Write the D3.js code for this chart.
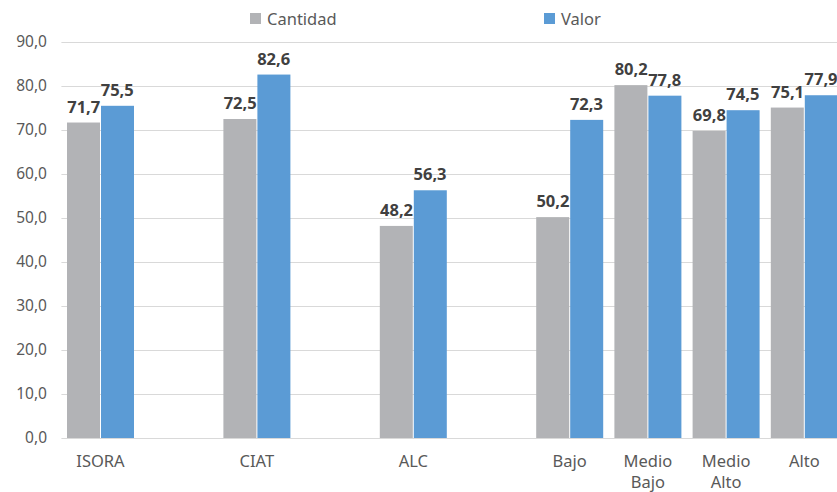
<!DOCTYPE html>
<html lang="es">
<head>
<meta charset="UTF-8" />
<title>Cantidad y Valor</title>
<script src="https://d3js.org/d3.v7.min.js"></script>
<style>
  body { margin: 0; background: #fff; }
  text { font-family: "Noto Sans", sans-serif; }
</style>
</head>
<body>
<div id="chart"></div>
<script>
// Categories (blank slots keep the gaps between the first groups)
const categories = ["ISORA", "", "CIAT", "", "ALC", "", "Bajo", "Medio\nBajo", "Medio\nAlto", "Alto"];
const cantidad = [71.7, null, 72.5, null, 48.2, null, 50.2, 80.2, 69.8, 75.1];
const valor = [75.5, null, 82.6, null, 56.3, null, 72.3, 77.8, 74.5, 77.9];
const yTicks = [0, 10, 20, 30, 40, 50, 60, 70, 80, 90];
const seriesNames = ["Cantidad", "Valor"];
const colors = ["#b2b3b6", "#5b9bd5"];

const width = 837, height = 492;
const plot = { left: 61.4, right: 843.4, top: 42, bottom: 438 };

const svg = d3.select("#chart").append("svg")
  .attr("width", width)
  .attr("height", height);

const x = d3.scaleBand()
  .domain(d3.range(categories.length))
  .range([plot.left, plot.right]);

const y = d3.scaleLinear()
  .domain([0, 90])
  .range([plot.bottom, plot.top]);

const fmt = v => v.toFixed(1).replace(".", ",");

// gridlines
svg.append("g")
  .selectAll("line")
  .data(yTicks)
  .join("line")
  .attr("x1", plot.left)
  .attr("x2", width)
  .attr("y1", d => Math.round(y(d)) + 0.5)
  .attr("y2", d => Math.round(y(d)) + 0.5)
  .attr("stroke", "#d9d9d9")
  .attr("stroke-width", 1);

// y tick labels
svg.append("g")
  .selectAll("text")
  .data(yTicks)
  .join("text")
  .attr("x", 47)
  .attr("y", d => y(d))
  .attr("dy", "0.35em")
  .attr("text-anchor", "end")
  .attr("fill", "#595959")
  .attr("font-size", 15.5)
  .text(d => fmt(d));

// bars
const groupW = 67;
const barW = groupW / 2;
const rows = categories.map((c, i) => ({ i, vals: [cantidad[i], valor[i]] }))
  .filter(d => d.vals[0] != null);

const groups = svg.append("g")
  .selectAll("g")
  .data(rows)
  .join("g")
  .attr("transform", d => `translate(${x(d.i) + (x.bandwidth() - groupW) / 2},0)`);

groups.selectAll("rect")
  .data(d => d.vals)
  .join("rect")
  .attr("x", (d, k) => k * barW + (k === 1 ? 0.5 : 0))
  .attr("width", (d, k) => barW - 0.5)
  .attr("y", d => y(d))
  .attr("height", d => y(0) - y(d))
  .attr("fill", (d, k) => colors[k]);

groups.selectAll("text")
  .data(d => d.vals)
  .join("text")
  .attr("x", (d, k) => k * barW + barW / 2)
  .attr("y", d => y(d) - 10)
  .attr("text-anchor", "middle")
  .attr("font-size", 16.5)
  .attr("font-weight", "bold")
  .attr("fill", "#404040")
  .text(d => fmt(d));

// x labels
svg.append("g")
  .selectAll("text")
  .data(categories.map((c, i) => ({ c, i })).filter(d => d.c))
  .join("text")
  .attr("x", d => x(d.i) + x.bandwidth() / 2)
  .attr("y", 467)
  .attr("text-anchor", "middle")
  .attr("fill", "#595959")
  .attr("font-size", 16.5)
  .selectAll("tspan")
  .data(d => d.c.split("\n"))
  .join("tspan")
  .attr("x", function () { return d3.select(this.parentNode).attr("x"); })
  .attr("dy", (d, k) => k === 0 ? 0 : 21)
  .text(d => d);

// legend
const legendX = [250, 544];
const legend = svg.append("g")
  .selectAll("g")
  .data(seriesNames)
  .join("g")
  .attr("transform", (d, k) => `translate(${legendX[k]},13)`);
legend.append("rect")
  .attr("width", 11)
  .attr("height", 11)
  .attr("fill", (d, k) => colors[k]);
legend.append("text")
  .attr("x", 17)
  .attr("y", 12)
  .attr("fill", "#595959")
  .attr("font-size", 16.5)
  .text(d => d);
</script>
</body>
</html>
